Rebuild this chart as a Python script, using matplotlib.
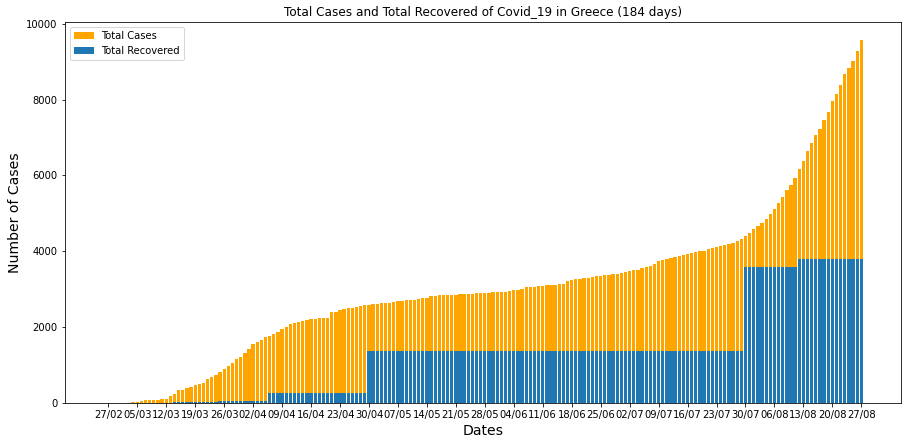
import matplotlib
matplotlib.use("Agg")
import matplotlib.pyplot as plt
import numpy as np
import pandas as pd

# Dates: 26/02/2020 .. 27/08/2020 (184 days)
dates = pd.date_range("2020-02-26", periods=184, freq="D")
date_labels = [d.strftime("%d/%m") for d in dates]

total_cases = [
    # Feb 26-29
    1, 3, 4, 7,
    # March
    7, 7, 7, 21, 31, 45, 66, 73, 73, 89, 99, 117, 190, 228, 331, 352, 387, 418, 464,
    495, 530, 624, 695, 743, 821, 892, 966, 1061, 1156, 1212, 1314,
    # April
    1415, 1544, 1613, 1673, 1735, 1755, 1832, 1884, 1955, 2011, 2081, 2114, 2145, 2170,
    2192, 2207, 2224, 2235, 2235, 2245, 2401, 2408, 2463, 2490, 2506, 2517, 2534, 2566,
    2576, 2591,
    # May
    2612, 2620, 2626, 2632, 2642, 2663, 2678, 2691, 2710, 2716, 2726, 2744, 2760, 2770,
    2810, 2819, 2834, 2836, 2840, 2850, 2853, 2873, 2876, 2878, 2882, 2892, 2903, 2906,
    2909, 2915, 2917,
    # June
    2918, 2937, 2952, 2967, 2980, 2997, 3049, 3058, 3068, 3083, 3088, 3108, 3112, 3121,
    3134, 3148, 3203, 3237, 3256, 3266, 3287, 3302, 3310, 3340, 3343, 3366, 3376, 3390,
    3409, 3432,
    # July
    3458, 3486, 3511, 3519, 3562, 3589, 3622, 3672, 3732, 3772, 3803, 3826, 3852, 3879,
    3905, 3939, 3964, 3983, 4007, 4012, 4048, 4077, 4109, 4135, 4166, 4193, 4227, 4279,
    4336, 4401, 4477,
    # August 1-27
    4587, 4662, 4737, 4855, 4973, 5123, 5270, 5421, 5623, 5749, 5942, 6177, 6381, 6632,
    6858, 7075, 7222, 7472, 7684, 7952, 8133, 8381, 8664, 8819, 9008, 9280, 9558,
]

total_recovered = (
    [0] * 17        # 26/02 - 13/03
    + [19] * 11     # 14/03 - 24/03
    + [52] * 12     # 25/03 - 05/04
    + [269] * 24    # 06/04 - 29/04
    + [1374] * 91   # 30/04 - 29/07
    + [3585] * 13   # 30/07 - 11/08
    + [3804] * 16   # 12/08 - 27/08
)

x = np.arange(len(dates))

fig = plt.figure(figsize=(907 / 72, 445 / 72), dpi=72)
ax = fig.add_axes([64.5 / 907, 1 - 403 / 445, (901 - 64.5) / 907, (403 - 22.3) / 445])

ax.bar(x, total_cases, color="orange", label="Total Cases")
ax.bar(x, total_recovered, color="#1f77b4", label="Total Recovered")

tick_pos = x[1::7]
ax.set_xticks(tick_pos)
ax.set_xticklabels([date_labels[i] for i in tick_pos], fontsize=10)
ax.tick_params(axis="y", labelsize=10)

ax.set_title("Total Cases and Total Recovered of Covid_19 in Greece (184 days)", fontsize=12)
ax.set_xlabel("Dates", fontsize=14)
ax.set_ylabel("Number of Cases", fontsize=14)
ax.legend(loc="upper left", fontsize=10)

fig.savefig("out.png", dpi=72)
